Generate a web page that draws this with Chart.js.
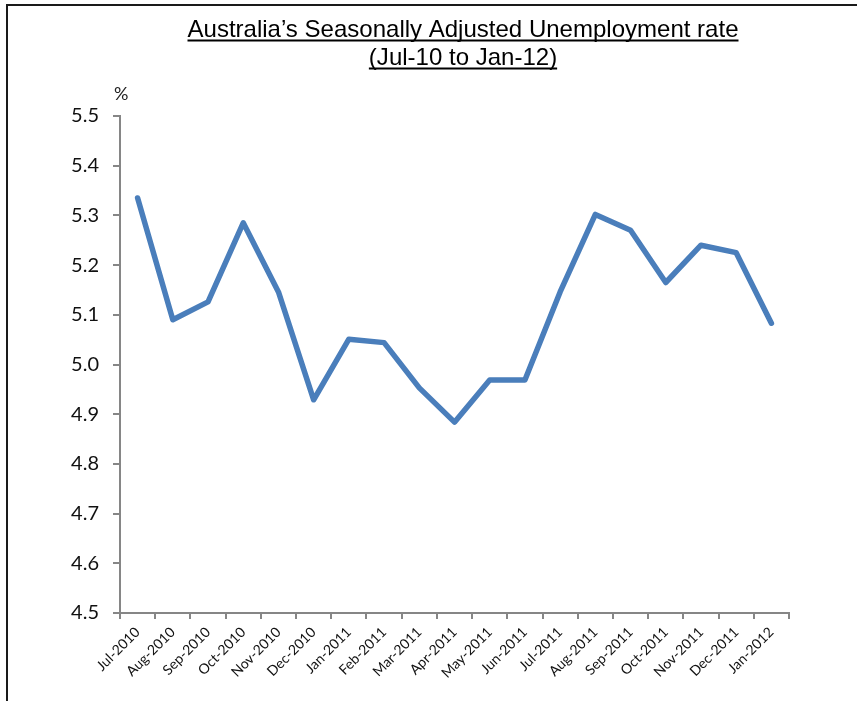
<!DOCTYPE html>
<html>
<head>
<meta charset="utf-8">
<script src="https://cdn.jsdelivr.net/npm/chart.js@4"></script>
<style>
  html, body { margin: 0; padding: 0; background: #fff; }
  #wrap { width: 857px; height: 701px; position: relative; }
</style>
</head>
<body>
<div id="wrap"><canvas id="chart" width="857" height="701"></canvas></div>
<script>
// données
const months = ['Jul-2010', 'Aug-2010', 'Sep-2010', 'Oct-2010', 'Nov-2010', 'Dec-2010',
    'Jan-2011', 'Feb-2011', 'Mar-2011', 'Apr-2011', 'May-2011', 'Jun-2011',
    'Jul-2011', 'Aug-2011', 'Sep-2011', 'Oct-2011', 'Nov-2011', 'Dec-2011', 'Jan-2012'];
const unemployment = [5.335, 5.09, 5.126, 5.285, 5.146, 4.929,
    5.051, 5.044, 4.953, 4.884, 4.969, 4.969,
    5.146, 5.302, 5.27, 5.165, 5.24, 5.225, 5.083];
const titleLines = ['Australia\u2019s Seasonally Adjusted Unemployment rate', '(Jul-10 to Jan-12)'];
const yUnit = '%';

const AXIS_GREY = '#868686';
const LINE_BLUE = '#4a7ebb';

// fond blanc + cadre + titre souligné + unité
const decor = {
    id: 'decor',
    beforeDraw(chart) {
        const ctx = chart.ctx;
        ctx.save();
        ctx.fillStyle = '#fff';
        ctx.fillRect(0, 0, chart.width, chart.height);
        ctx.strokeStyle = '#1a1a1a';
        ctx.lineWidth = 2;
        ctx.beginPath();
        ctx.moveTo(7, chart.height);
        ctx.lineTo(7, 5);
        ctx.lineTo(chart.width, 5);
        ctx.stroke();
        ctx.restore();
    },
    afterDraw(chart) {
        const ctx = chart.ctx;
        ctx.save();
        ctx.fillStyle = '#000';
        ctx.strokeStyle = '#000';
        ctx.font = '24px "Liberation Sans", Arial, sans-serif';
        ctx.textAlign = 'center';
        ctx.textBaseline = 'alphabetic';
        const cx = 463;
        const ys = [37, 65];
        // le titre d'origine est un peu condensé
        const sx = 551 / ctx.measureText(titleLines[0]).width;
        titleLines.forEach((t, i) => {
            const w = ctx.measureText(t).width * sx;
            ctx.save();
            ctx.translate(cx, ys[i]);
            ctx.scale(sx, 1);
            ctx.fillText(t, 0, 0);
            ctx.restore();
            ctx.lineWidth = 2;
            ctx.beginPath();
            ctx.moveTo(cx - w / 2, ys[i] + 3.5);
            ctx.lineTo(cx + w / 2, ys[i] + 3.5);
            ctx.stroke();
        });
        ctx.font = '18px Lato, "Open Sans", sans-serif';
        ctx.fillStyle = '#222';
        ctx.textAlign = 'left';
        ctx.fillText(yUnit, 114, 100);
        ctx.restore();
    }
};

const ctx = document.getElementById('chart');

new Chart(ctx, {
    type: 'line',
    data: {
        labels: months,
        datasets: [{
            data: unemployment,
            borderColor: LINE_BLUE,
            borderWidth: 5.5,
            pointRadius: 0,
            tension: 0,
            fill: false,
            borderCapStyle: 'round',
            borderJoinStyle: 'round'
        }]
    },
    options: {
        responsive: false,
        animation: false,
        layout: { padding: { top: 116, right: 68, left: 0, bottom: 0 } },
        plugins: {
            legend: { display: false },
            tooltip: { enabled: false },
            title: { display: false }
        },
        scales: {
            x: {
                offset: true,
                afterFit(scale) { scale.height = 701 - 613; },
                grid: {
                    offset: true,
                    drawOnChartArea: false,
                    drawTicks: true,
                    tickLength: 6,
                    color: AXIS_GREY,
                    lineWidth: 2
                },
                border: { color: AXIS_GREY, width: 2 },
                ticks: {
                    autoSkip: false,
                    maxRotation: 45,
                    minRotation: 45,
                    padding: 5,
                    color: '#111',
                    font: { family: 'Lato, "Open Sans", sans-serif', size: 14 }
                }
            },
            y: {
                min: 4.5,
                max: 5.5,
                afterFit(scale) { scale.width = 120; },
                grid: {
                    drawOnChartArea: false,
                    drawTicks: true,
                    tickLength: 7,
                    color: AXIS_GREY,
                    lineWidth: 2
                },
                border: { color: AXIS_GREY, width: 2 },
                ticks: {
                    stepSize: 0.1,
                    padding: 14,
                    color: '#111',
                    font: { family: 'Lato, "Open Sans", sans-serif', size: 20 },
                    callback: (v) => Number(v).toFixed(1)
                }
            }
        }
    },
    plugins: [decor]
});
</script>
</body>
</html>
